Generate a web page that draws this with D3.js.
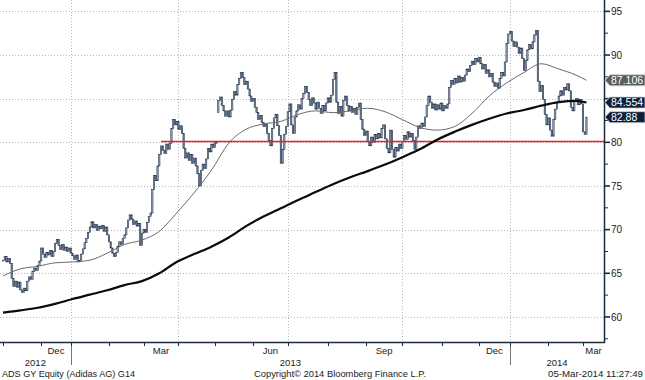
<!DOCTYPE html>
<html><head><meta charset="utf-8">
<script src="https://cdn.jsdelivr.net/npm/d3@7"></script>
<style>
html,body{margin:0;padding:0;background:#fff;}
svg{display:block;font-family:"Liberation Sans",Arial,sans-serif;}
</style></head><body>
<svg id="c" width="645" height="380"></svg>
<script>
// Daily closes (trading-day index 0 = 1 Nov 2012 ... 336 = 5 Mar 2014)
const closes = [
66.5,66.9,66.3,66.7,66.1,64.4,63.5,64.1,63.4,64.0,
63.1,62.8,63.3,63.0,64.1,64.6,64.3,65.2,65.6,65.3,
65.9,66.4,67.9,67.2,66.8,67.4,67.1,67.6,66.9,67.5,
68.4,68.9,68.2,67.7,68.3,67.6,68.0,67.5,67.9,67.3,
67.0,66.6,67.1,66.3,66.5,67.2,67.8,68.5,69.0,69.7,
70.3,70.9,70.2,70.6,69.9,70.4,70.1,70.5,69.8,70.3,
69.4,68.6,67.9,67.3,66.9,67.4,68.1,68.6,68.3,69.0,
69.4,70.2,71.1,71.7,71.2,70.6,71.0,70.4,70.7,68.2,
69.6,70.0,69.7,70.8,71.5,71.9,74.6,76.2,75.6,77.3,
78.6,79.6,79.1,78.7,79.8,79.2,79.9,81.6,82.6,82.0,
82.4,81.5,81.9,81.0,79.3,78.2,78.8,77.9,78.6,77.6,
78.2,77.3,76.4,75.0,76.8,77.5,77.0,78.1,79.3,78.9,
79.8,79.4,80.1,79.9,84.8,85.2,84.2,83.6,83.0,83.6,
82.9,83.7,84.9,85.8,85.4,86.6,87.3,88.0,87.4,86.6,
87.0,86.1,85.3,84.7,85.0,84.0,83.4,82.6,83.1,82.3,
81.8,82.1,81.0,80.2,79.6,81.6,82.8,83.2,81.9,80.8,
77.6,79.2,80.9,81.8,83.5,84.4,82.0,81.0,82.9,83.6,
84.3,83.8,85.0,85.6,86.4,85.7,84.9,84.2,85.1,84.5,
83.8,84.6,83.9,83.3,84.2,83.6,84.5,85.1,84.6,85.4,
87.2,88.0,84.6,83.3,84.1,83.0,84.8,85.3,84.2,83.6,
84.1,83.4,83.9,83.2,84.0,84.5,82.6,81.5,80.8,81.3,
80.1,79.6,80.6,80.0,80.9,80.4,81.0,80.5,81.6,82.0,
80.4,79.3,78.8,81.4,79.2,78.3,79.4,79.0,79.8,79.3,
80.1,80.8,80.3,81.2,80.6,81.0,80.2,79.2,80.6,81.9,
81.6,82.2,81.8,82.9,84.2,85.3,84.6,83.9,84.4,83.7,
84.3,83.8,84.5,83.6,84.2,83.9,84.4,86.3,87.1,86.6,
87.3,86.8,87.6,86.9,87.4,87.0,87.7,88.4,88.1,88.8,
89.3,88.9,89.6,89.2,89.7,89.0,88.4,88.9,87.9,88.3,
87.5,87.9,86.9,86.4,86.8,86.2,87.3,88.0,87.6,89.2,
91.3,92.4,92.7,91.6,91.0,91.5,90.9,90.2,90.8,89.6,
88.2,89.4,90.6,91.2,90.7,91.5,92.3,92.8,87.0,85.8,
86.5,84.9,83.2,82.0,82.8,81.4,80.7,82.6,83.8,84.6,
85.3,85.9,85.4,86.3,86.0,86.7,85.9,84.0,83.6,84.7,
85.0,84.3,84.9,84.4,81.2,80.9,82.88
];
// opening gaps: [index, open]
const gapOpens = [[124, 83.4]];

// moving averages read every 10 trading days (last point = last day)
const maStep = 10;
const ma50 = [64.7,65.5,65.8,66.2,66.3,66.5,67.3,68.3,68.8,69.8,71.9,74.2,76.8,79.9,81.5,82.1,82.4,83.2,83.6,83.4,83.6,83.9,83.5,82.6,81.7,81.4,81.8,83.3,85.3,86.8,88.0,89.0,88.4,87.7,87.106];
const ma200 = [60.5,60.75,61.05,61.5,62.05,62.55,63.05,63.65,64.1,65.0,66.3,67.2,68.05,69.1,70.4,71.5,72.45,73.4,74.3,75.2,76.0,76.7,77.45,78.3,79.2,80.3,81.2,82.0,82.7,83.3,83.7,84.2,84.6,84.75,84.554];

const monthStarts = [0,22,39,61,81,101,122,144,164,187,209,230,253,274,292,314,334];
const monthNames  = ["Nov","Dec","Jan","Feb","Mar","Apr","May","Jun","Jul","Aug","Sep","Oct","Nov","Dec","Jan","Feb","Mar"];
const labeledMonths = ["Dec","Mar","Jun","Sep"];
const quarterStarts = [39,101,164,230,292];
const yearLabels = ["2012","2013","2014"];
const yearStarts = [39,292];
const yTicks = [60,65,70,75,80,85,90,95];
const supportLevel = 80.1, supportFrom = 91;
const tags = [
  {value:87.106, label:"87.106", fill:"#5b5c5f"},
  {value:84.554, label:"84.554", fill:"#0c1f3d"},
  {value:82.88,  label:"82.88",  fill:"#0c1f3d"}
];
const footer = ["ADS GY Equity (Adidas AG) G14","Copyright\u00A9 2014 Bloomberg Finance L.P.","05-Mar-2014 11:27:49"];

const W=604, H=342;
const svg = d3.select("#c");
const x = d3.scaleLinear().domain([-1.73, 346.1]).range([0, W]);
const y = d3.scaleLinear().domain([57.13, 96.3]).range([H, 0]);
const axisCol = "#1c2a3c";

svg.append("defs").append("clipPath").attr("id","clip")
  .append("rect").attr("x",0).attr("y",0).attr("width",W).attr("height",H);

// grid
const grid = svg.append("g").attr("stroke","#b8b8b8").attr("stroke-width",1).attr("stroke-dasharray","1,2");
grid.selectAll("line.h").data(yTicks).join("line").attr("class","h")
  .attr("x1",0).attr("x2",W).attr("y1",d=>Math.round(y(d))+0.5).attr("y2",d=>Math.round(y(d))+0.5);
grid.selectAll("line.v").data(quarterStarts).join("line").attr("class","v")
  .attr("x1",d=>Math.round(x(d))+0.5).attr("x2",d=>Math.round(x(d))+0.5).attr("y1",0).attr("y2",H);

const plot = svg.append("g").attr("clip-path","url(#clip)");

// candles
const gm = new Map(gapOpens);
const bars = closes.map((c,i)=>({i, c, o: gm.has(i) ? gm.get(i) : (i ? closes[i-1] : c)}));
plot.append("g").selectAll("rect").data(bars).join("rect")
  .attr("x",d=>x(d.i)-0.65).attr("width",1.3)
  .attr("y",d=>y(Math.max(d.o,d.c)))
  .attr("height",d=>Math.max(1, y(Math.min(d.o,d.c))-y(Math.max(d.o,d.c))))
  .attr("fill",d=>d.c>=d.o?"#a7b6ca":"#7c90aa")
  .attr("stroke","#14233a").attr("stroke-width",0.55);

// red support line (on top of the bars)
plot.append("line").attr("x1",x(supportFrom)).attr("x2",W)
  .attr("y1",y(supportLevel)).attr("y2",y(supportLevel))
  .attr("stroke","#e8202a").attr("stroke-width",1.6);

// moving averages
const maIdx = (arr)=>arr.map((v,k)=>({i: k===arr.length-1 ? closes.length-1 : k*maStep, v}));
const line = d3.line().x(d=>x(d.i)).y(d=>y(d.v)).curve(d3.curveMonotoneX);
plot.append("path").datum(maIdx(ma50)).attr("d",line).attr("fill","none")
  .attr("stroke","#6a6a6a").attr("stroke-width",1);
plot.append("path").datum(maIdx(ma200)).attr("d",line).attr("fill","none")
  .attr("stroke","#0a0a0a").attr("stroke-width",2.2);

// axes lines
svg.append("line").attr("x1",W+0.5).attr("x2",W+0.5).attr("y1",0).attr("y2",H+1)
  .attr("stroke",axisCol).attr("stroke-width",1.5);
svg.append("line").attr("x1",0).attr("x2",W+1).attr("y1",H+0.5).attr("y2",H+0.5)
  .attr("stroke",axisCol).attr("stroke-width",1.5);

// right axis ticks
const minor = d3.range(57.5, 96, 5);
svg.selectAll("line.mt").data(minor).join("line").attr("class","mt")
  .attr("x1",W).attr("x2",W+4).attr("y1",d=>y(d)).attr("y2",d=>y(d))
  .attr("stroke",axisCol).attr("stroke-width",1);
svg.selectAll("line.Mt").data(yTicks).join("line").attr("class","Mt")
  .attr("x1",W).attr("x2",W+6).attr("y1",d=>y(d)).attr("y2",d=>y(d))
  .attr("stroke",axisCol).attr("stroke-width",1.6);
// labels hidden behind a value tag are not drawn (as in the reference)
const visibleTicks = yTicks.filter(t=>tags.every(g=>Math.abs(y(g.value)-y(t))>7));
svg.selectAll("text.yl").data(visibleTicks).join("text").attr("class","yl")
  .attr("x",W+7).attr("y",d=>y(d)+3.6).attr("font-size",10).attr("fill","#222")
  .text(d=>d);

// bottom ticks
svg.selectAll("line.xt").data(monthStarts).join("line").attr("class","xt")
  .attr("x1",d=>Math.round(x(d))+0.5).attr("x2",d=>Math.round(x(d))+0.5)
  .attr("y1",H).attr("y2",H+4).attr("stroke",axisCol).attr("stroke-width",1);
const domEnd = x.domain()[1];
const mLabels = monthStarts.map((s,k)=>({name:monthNames[k], mid:(s+(k<monthStarts.length-1?monthStarts[k+1]:domEnd))/2}))
  .filter(d=>labeledMonths.includes(d.name));
svg.selectAll("text.ml").data(mLabels).join("text").attr("class","ml")
  .attr("x",d=>Math.min(x(d.mid), 596)).attr("y",354).attr("text-anchor","middle")
  .attr("font-size",9.5).attr("fill","#222").text(d=>d.name);
// year separators & labels
svg.selectAll("line.ys").data(yearStarts).join("line").attr("class","ys")
  .attr("x1",d=>Math.round(x(d))+0.5).attr("x2",d=>Math.round(x(d))+0.5)
  .attr("y1",346).attr("y2",365).attr("stroke","#777").attr("stroke-width",1);
const yb = [x.domain()[0], ...yearStarts, domEnd];
svg.selectAll("text.yr").data(yearLabels).join("text").attr("class","yr")
  .attr("x",(d,k)=>x((yb[k]+yb[k+1])/2)).attr("y",366).attr("text-anchor","middle")
  .attr("font-size",9.5).attr("fill","#222").text(d=>d);

// footer
const fx=[2,254,548], fw=[133,172,95];
svg.selectAll("text.ft").data(footer).join("text").attr("class","ft")
  .attr("x",(d,k)=>fx[k]).attr("y",377).attr("font-size",9.5).attr("fill","#222")
  .attr("textLength",(d,k)=>fw[k]).attr("lengthAdjust","spacingAndGlyphs").text(d=>d);

// value tags
const tg = svg.selectAll("g.tag").data(tags).join("g").attr("class","tag")
  .attr("transform",d=>`translate(0,${y(d.value)})`);
tg.append("path").attr("d",`M${W+1},0 L${W+6},-5.5 L645,-5.5 L645,5.5 L${W+6},5.5 Z`)
  .attr("fill",d=>d.fill).attr("stroke","#c9ced6").attr("stroke-width",0.8);
tg.append("text").attr("x",W+7).attr("y",3.7).attr("font-size",10.5).attr("fill","#fff")
  .text(d=>d.label);
</script>
</body></html>
